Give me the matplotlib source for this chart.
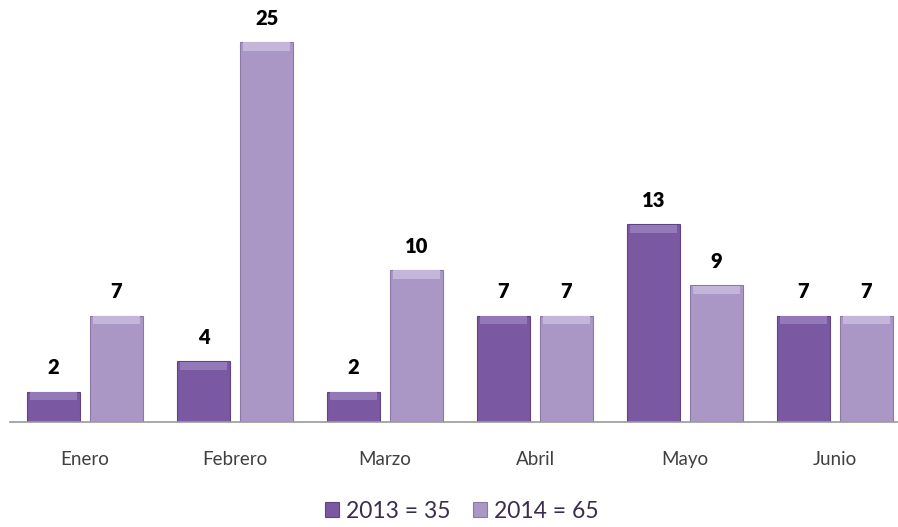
import numpy as np
import matplotlib
matplotlib.use("Agg")
import matplotlib.pyplot as plt

meses = ["Enero", "Febrero", "Marzo", "Abril", "Mayo", "Junio"]
v2013 = [2, 4, 2, 7, 13, 7]
v2014 = [7, 25, 10, 7, 9, 7]
leg2013 = "2013 = 35"
leg2014 = "2014 = 65"

plt.rcParams['font.family'] = ['Lato', 'DejaVu Sans']

fig = plt.figure(figsize=(8.98, 5.27), dpi=100)
ax = fig.add_axes([10/898, 105/527, 888/898, 410.4/527])

x = np.arange(len(meses))
w = 0.35
c13, c13_top, c13_edge = "#7a58a2", "#9479b8", "#5e4480"
c14, c14_top, c14_edge = "#aa97c6", "#c4b5da", "#8a78a6"

b1 = ax.bar(x - 0.21, v2013, w, color=c13, edgecolor=c13_edge, linewidth=0.8, label=leg2013)
b2 = ax.bar(x + 0.21, v2014, w, color=c14, edgecolor=c14_edge, linewidth=0.8, label=leg2014)
# bevel highlight on top of each bar
bev = 0.55
ax.bar(x - 0.21, [bev] * len(x), w * 0.9, bottom=np.array(v2013) - bev * 1.05, color=c13_top, linewidth=0)
ax.bar(x + 0.21, [bev] * len(x), w * 0.9, bottom=np.array(v2014) - bev * 1.05, color=c14_top, linewidth=0)

for xi, v in zip(x - 0.21, v2013):
    ax.text(xi, v + 0.95, str(v), ha="center", va="bottom", fontsize=14.5, fontweight="heavy", color="black")
for xi, v in zip(x + 0.21, v2014):
    ax.text(xi, v + 0.95, str(v), ha="center", va="bottom", fontsize=14.5, fontweight="heavy", color="black")

ax.set_xlim(-0.5, 5.42)
ax.set_ylim(0, 27)
ax.set_xticks(x)
ax.set_xticklabels(meses, fontsize=13.5, color="#404040")
ax.tick_params(axis="x", length=0, pad=21)
ax.set_yticks([])
for s in ["top", "right", "left"]:
    ax.spines[s].set_visible(False)
ax.spines["bottom"].set_color("#9a9a9a")
ax.spines["bottom"].set_linewidth(1.2)

ax.legend(handles=[b1, b2], loc="center", bbox_to_anchor=(462/898, 1 - 511/527), bbox_transform=fig.transFigure,
          ncol=2, frameon=False, fontsize=16.5, handlelength=0.6, handleheight=0.6, handletextpad=0.3,
          columnspacing=1.0, labelcolor="#3b2d4f")

fig.savefig("out.png", dpi=100)
